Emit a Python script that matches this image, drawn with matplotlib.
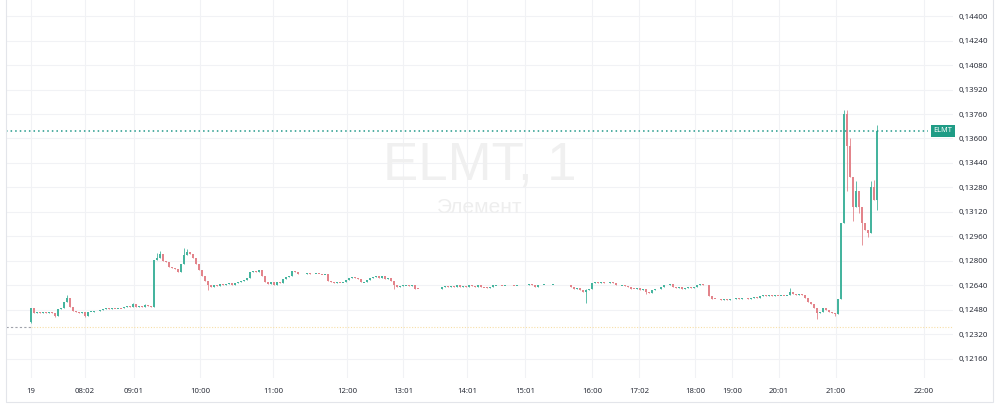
import matplotlib

matplotlib.use("Agg")
import matplotlib.pyplot as plt
import numpy as np
from matplotlib.axes import Axes
from matplotlib.figure import Figure
from matplotlib.patches import Rectangle
from matplotlib.ticker import FuncFormatter

GREEN = "#45b49e"
RED = "#e3848b"
GRID = "#f1f2f5"
TEXT = "#2a2e39"

# prices in units of 0.00001, one candle ~ 2 minutes
first_open = 12400
closes = [
    12490,
    12460, 12467, 12460, 12465, 12460, 12467, 12460, 12440, 12486, 12493,
    12530, 12560, 12500, 12473, 12467, 12460, 12465, 12440, 12467, 12470,
    12473, 12473, 12478, 12486, 12490, 12486, 12493, 12490, 12493, 12490,
    12499, 12505, 12499, 12520, 12499, 12505, 12499, 12512, 12505, 12499,
    12806, 12820, 12845, 12800, 12793, 12761, 12754, 12748, 12728, 12780,
    12840, 12860, 12845, 12820, 12780, 12740, 12700, 12670, 12640, 12630,
    12640, 12637, 12650, 12640, 12650, 12656, 12645, 12656, 12663, 12670,
    12676, 12690, 12730, 12735, 12728, 12741, 12700, 12660, 12650, 12660,
    12645, 12663, 12656, 12680, 12695, 12700, 12735, 12728, 12715, 12715,
    12715, 12720, 12715, 12715, 12718, 12715, 12712, 12715, 12670, 12663,
    12656, 12663, 12660, 12663, 12676, 12690, 12695, 12690, 12685, 12660,
    12663, 12676, 12690, 12695, 12700, 12690, 12705, 12680, 12690, 12670,
    12640, 12630, 12637, 12640, 12643, 12637, 12645, 12620, 12617, 12617,
    12617, 12617, 12617, 12617, 12617, 12617, 12630, 12637, 12630, 12637,
    12630, 12640, 12630, 12637, 12630, 12640, 12635, 12630, 12640, 12630,
    12627, 12624, 12630, 12640, 12643, 12643, 12640, 12643, 12645, 12643,
    12640, 12643, 12643, 12645, 12643, 12648, 12643, 12630, 12643, 12645,
    12645, 12640, 12645, 12645, 12643, 12645, 12640, 12645, 12643, 12630,
    12620, 12624, 12610, 12600, 12610, 12620, 12656, 12660, 12656, 12660,
    12656, 12656, 12660, 12656, 12645, 12640, 12643, 12637, 12630, 12620,
    12617, 12624, 12610, 12615, 12600, 12590, 12610, 12617, 12617, 12630,
    12645, 12640, 12650, 12630, 12624, 12630, 12617, 12624, 12630, 12624,
    12630, 12643, 12650, 12645, 12640, 12570, 12555, 12552, 12550, 12545,
    12552, 12545, 12550, 12552, 12558, 12552, 12560, 12558, 12552, 12560,
    12565, 12560, 12570, 12575, 12570, 12575, 12572, 12578, 12575, 12578,
    12575, 12578, 12600, 12584, 12580, 12584, 12578, 12560, 12530, 12520,
    12490, 12460, 12470, 12490, 12480, 12470, 12460, 12455, 12550, 13050,
    13760, 13550, 13350, 13150, 13260, 13150, 13050, 13000, 12980, 13280,
    13200, 13650,
]
wick_high = {0: 12495, 12: 12578, 34: 12526, 38: 12520, 42: 12852, 43: 12865,
             51: 12885, 52: 12880, 185: 12615, 253: 12624, 271: 13786,
             272: 13786, 273: 13600, 275: 13320, 276: 13244, 280: 13320,
             281: 13330, 282: 13690}
wick_low = {0: 12395, 8: 12434, 18: 12434, 59: 12610, 121: 12620, 185: 12526,
            205: 12584, 262: 12421, 268: 12440, 272: 13260, 274: 13060,
            276: 13113, 277: 12904, 278: 13002, 279: 12957, 282: 13130}
prev_close = 12370

price_ticks = [12160, 12320, 12480, 12640, 12800, 12960, 13120, 13280,
               13440, 13600, 13760, 13920, 14080, 14240, 14400]
tick_labels = ["19", "08:02", "09:01", "10:00", "11:00", "12:00", "13:01", "14:01",
               "15:01", "16:00", "17:02", "18:00", "19:00", "20:01", "21:00", "22:00"]
tick_bars = [0, 18, 34.3, 56.3, 80.7, 105.3, 124, 145.3,
             164.7, 187, 202.7, 221.3, 233.7, 249.3, 268.3, 297.7]

SCALE = 1e-5


def plot() -> None:
    plt.rcParams["font.family"] = ["Noto Sans", "DejaVu Sans"]

    fig: Figure = plt.figure(figsize=(10, 4.07), dpi=100)
    ax: Axes = fig.add_axes((6 / 1000, 29 / 407, 947 / 1000, 378 / 407))

    c = np.array(closes) * SCALE
    o = np.concatenate([[first_open * SCALE], c[:-1]])
    hi = np.maximum(o, c)
    lo = np.minimum(o, c)
    for i, v in wick_high.items():
        hi[i] = v * SCALE
    for i, v in wick_low.items():
        lo[i] = v * SCALE
    x = np.arange(len(c))
    colors = np.where(c >= o, GREEN, RED)

    ax.vlines(x, lo, hi, colors=colors, linewidth=0.6, zorder=3)
    body = np.maximum(np.abs(c - o), 0.00004)
    bottom = np.minimum(o, c) - (body - np.abs(c - o)) / 2
    ax.bar(x, body, bottom=bottom, width=0.6, color=colors, linewidth=0, zorder=3)

    x0, x1 = -25 / 3, 922 / 3
    ax.set_xlim(x0, x1)
    ax.set_ylim(0.120359, 0.145045)

    # previous close and last price lines
    pc = prev_close * SCALE
    ax.hlines(pc, x0, 0, colors="#a0a3ab", linestyles=(0, (2, 2)), linewidth=0.8, zorder=2)
    ax.hlines(pc, 0, x1, colors="#f7dfa8", linestyles=(0, (1, 1.5)), linewidth=0.8, zorder=2)
    ax.axhline(c[-1], xmax=0.974, color="#22998a", linestyle=(0, (1, 2)), linewidth=1.1, zorder=4)
    ax.text(0.9795, c[-1], "ELMT", transform=ax.get_yaxis_transform(), ha="left",
            va="center", fontsize=5.3, fontweight="bold", color="white", zorder=5,
            bbox=dict(boxstyle="square,pad=0.35", fc="#1f9c86", ec="none"))

    # watermark
    ax.text(0.5, 1 - 180 / 378, "ELMT, 1", transform=ax.transAxes, ha="center",
            va="baseline", fontsize=38, color="#f0f0f0", family="Liberation Sans", zorder=1)
    ax.text(0.5, 1 - 213 / 378, "Элемент", transform=ax.transAxes, ha="center",
            va="baseline", fontsize=15, color="#eeeeee", family="Liberation Sans", zorder=1)

    ax.set_yticks(np.array(price_ticks) * SCALE)
    ax.yaxis.set_major_formatter(FuncFormatter(lambda v, _: f"{v:.5f}".replace(".", ",")))
    ax.yaxis.tick_right()
    ax.set_xticks(tick_bars)
    ax.set_xticklabels(tick_labels)
    ax.get_xticklabels()[0].set_fontweight("bold")
    ax.tick_params(axis="y", length=0, pad=3.8, labelsize=5.7, labelcolor=TEXT)
    ax.tick_params(axis="x", length=0, pad=7.5, labelsize=5.6, labelcolor=TEXT)
    ax.grid(color=GRID, linewidth=0.8, zorder=0)
    ax.set_axisbelow(True)
    for s in ax.spines.values():
        s.set_visible(False)

    fig.add_artist(Rectangle((0.006, 5 / 407), 0.987, 1.0, transform=fig.transFigure,
                             fill=False, edgecolor="#e3e5ea", linewidth=0.8))
    fig.savefig("out.png", dpi=100)


plot()
